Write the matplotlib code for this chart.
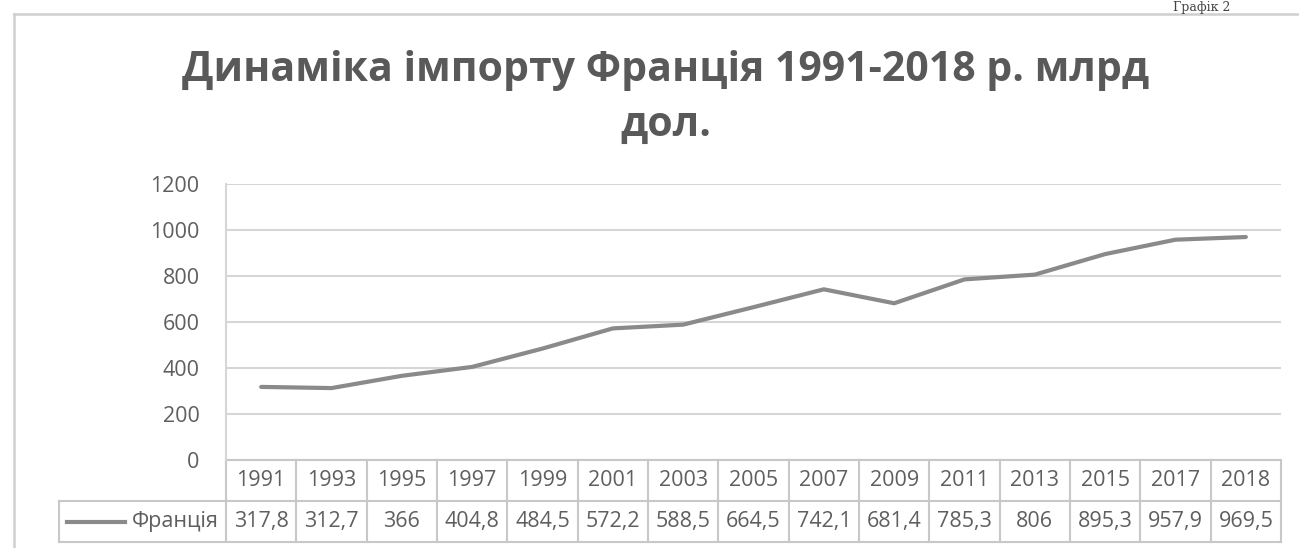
import matplotlib.pyplot as plt
from matplotlib.lines import Line2D

years = ['1991', '1993', '1995', '1997', '1999', '2001', '2003', '2005',
         '2007', '2009', '2011', '2013', '2015', '2017', '2018']
imports = [317.8, 312.7, 366, 404.8, 484.5, 572.2, 588.5, 664.5,
           742.1, 681.4, 785.3, 806, 895.3, 957.9, 969.5]
value_labels = ['317,8', '312,7', '366', '404,8', '484,5', '572,2', '588,5', '664,5',
                '742,1', '681,4', '785,3', '806', '895,3', '957,9', '969,5']
series_name = 'Франція'
title = 'Динаміка імпорту Франція 1991-2018 р. млрд\nдол.'
y_ticks = [0, 200, 400, 600, 800, 1000, 1200]

W, H = 1299, 548
text_col = '#5f5f5f'
grid_col = '#d6d6d6'
line_col = '#8a8a8a'

plt.rcParams['font.family'] = ['Open Sans', 'DejaVu Sans']

fig = plt.figure(figsize=(W / 100, H / 100), dpi=100)

# outer chart frame (left and top edges visible in the scan)
fig.add_artist(Line2D([14 / W, 14 / W], [0, 1 - 14 / H], color='#cfcfcf', lw=1.8))
fig.add_artist(Line2D([14 / W, 1], [1 - 14 / H, 1 - 14 / H], color='#cfcfcf', lw=1.8))

# page caption above the chart frame (cut off in the scan)
fig.text(1230 / W, 1 - 11 / H, 'Графік 2', family='DejaVu Serif', fontsize=9,
         color='#444444', ha='right', va='baseline')

fig.text(666 / W, 1 - 50 / H, title, fontsize=29.5, fontweight='bold',
         color='#595959', ha='center', va='top', linespacing=1.45)

left, right, top, bottom = 226, 1281, 184, 460
ax = fig.add_axes([left / W, 1 - bottom / H, (right - left) / W, (bottom - top) / H])

x = list(range(len(years)))
ax.plot(x, imports, color=line_col, lw=3, solid_capstyle='round', zorder=3)

ax.set_xlim(-0.5, len(years) - 0.5)
ax.set_ylim(0, 1200)
ax.set_yticks(y_ticks)
ax.set_yticklabels([str(t) for t in y_ticks], color=text_col, fontsize=15.5)
ax.tick_params(axis='y', length=0, pad=19)
ax.set_xticks([])
ax.grid(axis='y', color=grid_col, lw=1.5)
ax.set_axisbelow(True)
for s in ['top', 'right', 'bottom']:
    ax.spines[s].set_visible(False)
ax.spines['left'].set_color(grid_col)
ax.spines['left'].set_linewidth(1.5)

# data table below the plot
tr = ax.get_xaxis_transform()
ph = bottom - top
row1 = -41 / ph
row2 = -82 / ph
col_w = (right - left) / len(years)
label_left = -0.5 - (left - 59) / col_w
tbl = dict(color='#c8c8c8', lw=1.5, transform=tr, clip_on=False)

ax.plot([-0.5, len(years) - 0.5], [0, 0], **tbl)
ax.plot([label_left, len(years) - 0.5], [row1, row1], **tbl)
ax.plot([label_left, len(years) - 0.5], [row2, row2], **tbl)
ax.plot([label_left, label_left], [row1, row2], **tbl)
for i in range(len(years) + 1):
    ax.plot([i - 0.5, i - 0.5], [0, row2], **tbl)

for i, (yr, lab) in enumerate(zip(years, value_labels)):
    ax.text(i, row1 / 2, yr, transform=tr, ha='center', va='center',
            fontsize=15.5, color=text_col, clip_on=False)
    ax.text(i, (row1 + row2) / 2, lab, transform=tr, ha='center', va='center',
            fontsize=15.5, color=text_col, clip_on=False)

# legend key inside the row label cell
ax.plot([-0.5 - (left - 67) / col_w, -0.5 - (left - 125) / col_w],
        [(row1 + row2) / 2] * 2, color=line_col, lw=3, transform=tr, clip_on=False)
ax.text(-0.5 - 7 / col_w, (row1 + row2) / 2, series_name, transform=tr,
        ha='right', va='center', fontsize=15.5, color=text_col, clip_on=False)

fig.savefig('out.png', dpi=100)
